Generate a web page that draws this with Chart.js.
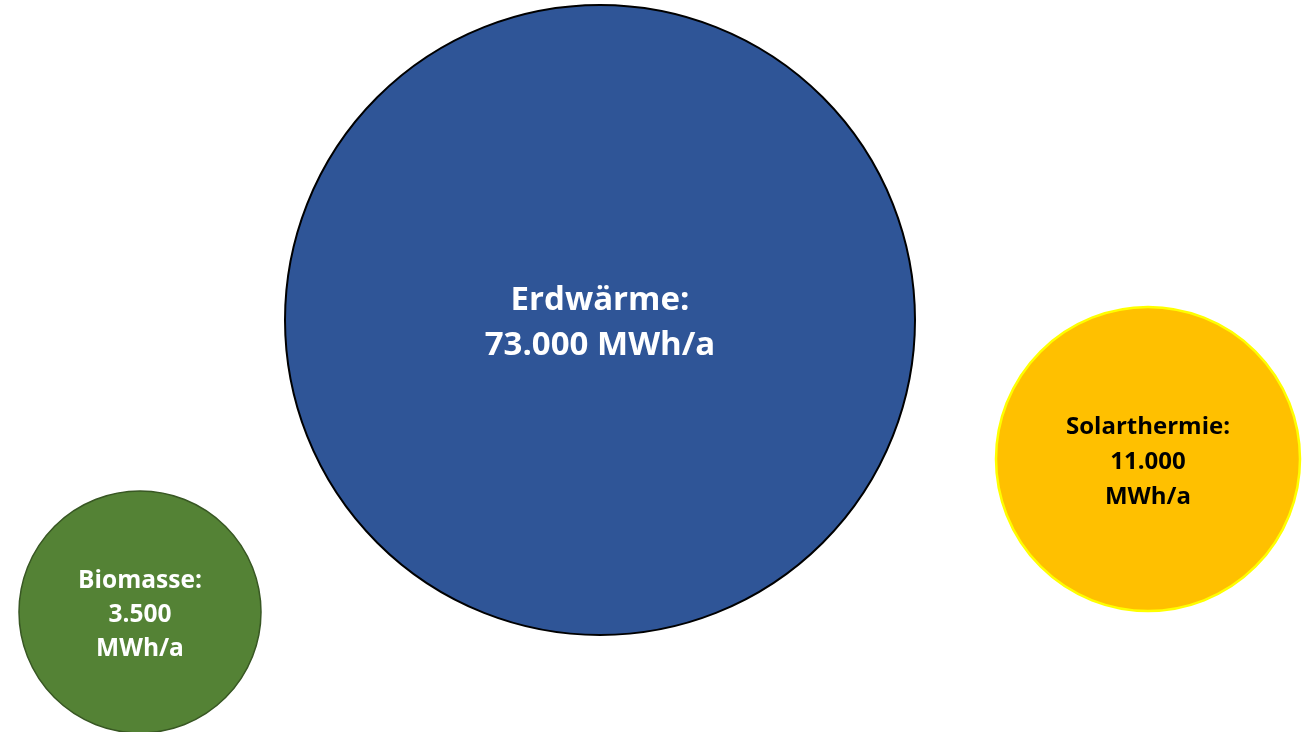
<!DOCTYPE html>
<html>
<head>
<meta charset="utf-8">
<script src="https://cdn.jsdelivr.net/npm/chart.js@4.4.1/dist/chart.umd.min.js"></script>
<style>
  html, body { margin: 0; padding: 0; background: #ffffff; }
  canvas { display: block; }
</style>
</head>
<body>
<canvas id="bubbleChart" width="1302" height="732"></canvas>
<script>
// --- data ---
const sources   = ['Biomasse', 'Erdwärme', 'Solarthermie'];
const valueText = ['3.500', '73.000', '11.000'];       // MWh/a
const posX      = [140, 600, 1148];                     // centre on x scale (0..1302)
const posY      = [612, 320, 459];                      // centre on y scale (0..732, top down)
const bubbleR   = [121, 315, 152];                      // bubble size as drawn
const fills     = ['#548235', '#2f5597', '#ffc000'];
const borders   = ['#385723', '#000000', '#ffff00'];
const borderW   = [1.5, 2, 2.5];
const textColor = ['#ffffff', '#ffffff', '#000000'];
// label lines per bubble
const labelLines = [
    ['Biomasse:', '3.500', 'MWh/a'],
    ['Erdwärme:', '73.000 MWh/a'],
    ['Solarthermie:', '11.000', 'MWh/a']
];
const labelSize = [24.5, 33, 24];
const lineGap   = [34, 45, 35];

const FONT = "'Open Sans', Lato, sans-serif";

// draws the text inside each bubble
const bubbleLabels = {
    id: 'bubbleLabels',
    afterDatasetsDraw(chart) {
        const ctx = chart.ctx;
        chart.data.datasets.forEach((ds, i) => {
            const el = chart.getDatasetMeta(i).data[0];
            const lines = labelLines[i];
            ctx.save();
            ctx.font = `bold ${labelSize[i]}px ${FONT}`;
            ctx.fillStyle = textColor[i];
            ctx.textAlign = 'center';
            ctx.textBaseline = 'middle';
            // slight downward nudge, text sits a bit low in the original
            const start = el.y + 3 - (lines.length - 1) * lineGap[i] / 2;
            lines.forEach((t, k) => ctx.fillText(t, el.x, start + k * lineGap[i]));
            ctx.restore();
        });
    }
};

const datasets = sources.map((name, i) => ({
    label: name + ': ' + valueText[i] + ' MWh/a',
    data: [{ x: posX[i], y: posY[i], r: bubbleR[i] }],
    backgroundColor: fills[i],
    borderColor: borders[i],
    borderWidth: borderW[i],
    clip: false
}));

new Chart(document.getElementById('bubbleChart'), {
    type: 'bubble',
    data: { datasets },
    options: {
        responsive: false,
        animation: false,
        events: [],
        layout: { padding: 0, autoPadding: false },
        plugins: { legend: { display: false }, tooltip: { enabled: false } },
        scales: {
            x: { type: 'linear', min: 0, max: 1302, display: false },
            y: { type: 'linear', min: 0, max: 732, reverse: true, display: false }
        }
    },
    plugins: [bubbleLabels]
});
</script>
</body>
</html>
